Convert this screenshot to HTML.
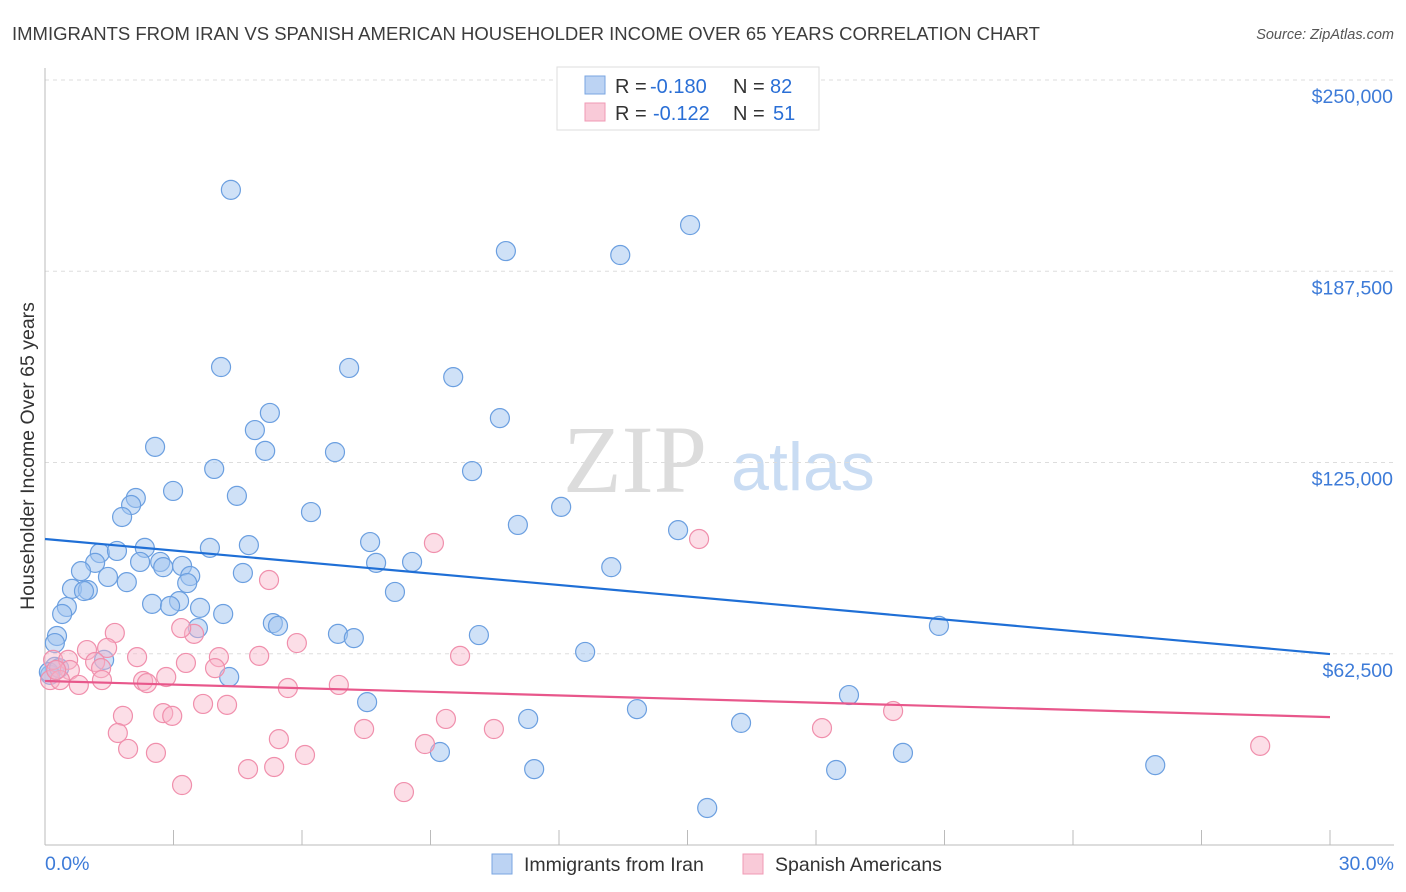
<!DOCTYPE html>
<html><head><meta charset="utf-8"><style>
body{margin:0;background:#fff;font-family:"Liberation Sans",sans-serif;}
svg{display:block}
</style></head><body>
<svg id="chart" width="1406" height="892">
<text x="12" y="40" font-size="18.5" fill="#3c3c3c" textLength="1028" lengthAdjust="spacingAndGlyphs">IMMIGRANTS FROM IRAN VS SPANISH AMERICAN HOUSEHOLDER INCOME OVER 65 YEARS CORRELATION CHART</text>
<text x="1394" y="39" font-size="14.5" fill="#555" text-anchor="end" font-style="italic">Source: ZipAtlas.com</text>
<text x="635" y="492" font-size="96" fill="#dcdcdc" font-family="Liberation Serif,serif" text-anchor="middle">ZIP</text>
<text x="803" y="490" font-size="68" fill="#c9dcf3" text-anchor="middle">atlas</text>
<g id="grid"></g>
<g id="axes"></g>
<g id="marks"></g>
<text transform="translate(34,456) rotate(-90)" font-size="19.5" fill="#333" text-anchor="middle">Householder Income Over 65 years</text>
<g>
<rect x="557" y="67" width="262" height="63" fill="#fff" stroke="#ddd"/>
<rect x="585" y="76" width="20" height="18" fill="#bcd3f3" stroke="#7aa6e2"/>
<rect x="585" y="103" width="20" height="18" fill="#f9cad8" stroke="#f09ab4"/>
<text x="615" y="93" font-size="20" fill="#333">R =</text>
<text x="650" y="93" font-size="20" fill="#2a6fd6">-0.180</text>
<text x="733" y="93" font-size="20" fill="#333">N =</text>
<text x="770" y="93" font-size="20" fill="#2a6fd6">82</text>
<text x="615" y="120" font-size="20" fill="#333">R =</text>
<text x="653" y="120" font-size="20" fill="#2a6fd6">-0.122</text>
<text x="733" y="120" font-size="20" fill="#333">N =</text>
<text x="773" y="120" font-size="20" fill="#2a6fd6">51</text>
</g>
<g>
<rect x="492" y="854" width="20" height="20" fill="#bcd3f3" stroke="#7aa6e2"/>
<text x="524" y="871" font-size="19.5" fill="#333">Immigrants from Iran</text>
<rect x="743" y="854" width="20" height="20" fill="#f9cad8" stroke="#f09ab4"/>
<text x="775" y="871" font-size="19.5" fill="#333">Spanish Americans</text>
</g>
</svg>
<script>
const yTicks=[62500,125000,187500,250000];
const yTickLabels=["$62,500","$125,000","$187,500","$250,000"];
const xTickLabels=["0.0%","30.0%"];
const iranX=[4.34,15.06,10.76,13.43,4.11,7.10,9.53,5.25,10.62,4.90,2.57,5.14,6.77,3.95,9.97,2.99,4.48,2.12,2.01,12.05,1.80,6.21,11.04,14.78,7.59,3.85,4.76,1.28,1.68,2.33,2.69,2.22,1.17,2.76,7.73,8.57,13.22,3.20,4.62,0.84,1.47,3.39,1.91,3.32,0.63,1.00,0.91,8.17,2.50,3.13,2.92,3.62,0.51,0.40,4.16,20.87,5.32,5.44,3.57,6.84,7.21,10.13,0.28,0.23,12.61,1.38,0.23,4.30,0.12,18.77,7.52,13.82,11.28,16.25,9.22,20.03,11.42,18.47,25.92,15.46,0.09,0.33];
const iranY=[214.1,202.6,194.1,192.8,156.2,155.9,152.9,141.2,139.5,135.6,130.1,128.8,128.4,122.9,122.2,115.7,114.1,113.4,111.1,110.5,107.2,108.8,104.6,102.9,99.0,97.1,98.0,95.4,96.1,97.1,92.5,92.5,92.2,90.8,92.2,92.5,90.8,91.2,88.9,89.5,87.6,87.9,85.9,85.6,83.7,83.3,83.0,82.7,78.8,79.7,78.1,77.5,77.8,75.5,75.5,71.6,72.5,71.6,70.9,69.0,67.6,68.6,68.3,66.0,63.1,60.5,58.2,54.9,55.6,49.0,46.7,44.4,41.2,39.9,30.4,30.1,24.8,24.5,26.1,12.1,56.5,57.8];
const spanX=[5.23,9.08,15.27,1.63,3.48,3.18,5.88,0.98,1.45,2.15,4.06,5.00,9.69,0.19,0.54,1.17,3.29,3.97,1.31,0.58,2.83,2.29,0.79,0.12,0.35,5.67,6.86,2.38,1.33,3.69,4.25,19.80,2.76,2.97,1.82,9.36,7.45,10.48,18.14,1.70,5.46,8.87,1.94,2.59,6.07,4.74,5.35,28.37,3.20,8.38,0.26];
const spanY=[86.6,98.7,100.0,69.3,69.0,70.9,66.0,63.7,64.4,61.4,61.4,61.8,61.8,60.5,60.5,59.8,59.5,57.8,57.8,57.2,54.9,53.6,52.3,53.9,53.9,51.3,52.3,52.9,53.9,46.1,45.8,43.8,43.1,42.2,42.2,41.2,37.9,37.9,38.2,36.6,34.6,33.0,31.4,30.1,29.4,24.8,25.5,32.4,19.6,17.3,57.2];
const iranTrend=[100.0,62.4];
const spanTrend=[53.6,41.8];
const NS="http://www.w3.org/2000/svg";
const xS=v=>45+v/30*1285;
const yS=k=>845-k/250*765;
function mk(t,a,p){const e=document.createElementNS(NS,t);for(const k in a)e.setAttribute(k,a[k]);p.appendChild(e);return e;}
const grid=document.getElementById('grid'),axes=document.getElementById('axes'),marks=document.getElementById('marks');
yTicks.forEach((v,i)=>{
 const g=mk('line',{x1:45,x2:1394,y1:yS(v/1000),y2:yS(v/1000),stroke:'#ddd','stroke-dasharray':'4,4'},grid);
 
 
 const t=mk('text',{x:1393,y:yS(v/1000)+23,'font-size':19.5,fill:'#3d7bd8','text-anchor':'end'},axes);
 t.textContent=yTickLabels[i];
 
 
});
const ax=mk('line',{x1:45,x2:1394,y1:845,y2:845,stroke:'#bbb'},axes);


const ay=mk('line',{x1:45,x2:45,y1:68,y2:845,stroke:'#bbb'},axes);


for(let p=0;p<=30;p+=3){
 const tk=mk('line',{x1:xS(p),x2:xS(p),y1:830,y2:845,stroke:'#bbb'},axes);
 
 
}
[[0,'start',45],[1,'end',1394]].forEach(([i,a,x])=>{
 const t=mk('text',{x:x,y:870,'font-size':19.5,fill:'#3d7bd8','text-anchor':a},axes);
 t.textContent=xTickLabels[i];
 
 
});
iranX.forEach((x,i)=>{
 const c=mk('circle',{cx:xS(x),cy:yS(iranY[i]),r:9.5,fill:'rgba(160,196,240,0.5)',stroke:'#6b9fe0','stroke-width':1.2},marks);
 
 
});
spanX.forEach((x,i)=>{
 const c=mk('circle',{cx:xS(x),cy:yS(spanY[i]),r:9.5,fill:'rgba(248,182,202,0.45)',stroke:'#f08fac','stroke-width':1.2},marks);
 
 
});
const l1=mk('line',{x1:xS(0),x2:xS(30),y1:yS(iranTrend[0]),y2:yS(iranTrend[1]),stroke:'#1f6fd6','stroke-width':2.2},marks);


const l2=mk('line',{x1:xS(0),x2:xS(30),y1:yS(spanTrend[0]),y2:yS(spanTrend[1]),stroke:'#e8578b','stroke-width':2.2},marks);


</script>
</body></html>
